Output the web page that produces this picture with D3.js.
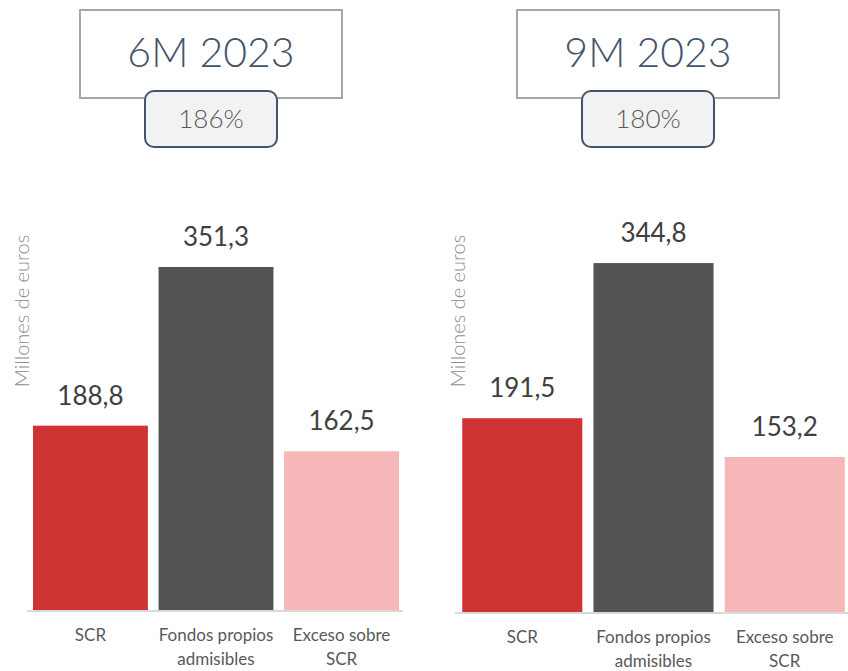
<!DOCTYPE html>
<html>
<head>
<meta charset="utf-8">
<script src="https://cdn.jsdelivr.net/npm/d3@7"></script>
<style>
  body { margin: 0; background: #fff; }
  svg { display: block; font-family: Lato, "Open Sans", sans-serif; }
</style>
</head>
<body>
<svg></svg>
<script>
// DATA ////////////////////////////////////////////////////////////////////////
const categories = ['SCR', 'Fondos propios|admisibles', 'Exceso sobre|SCR'];
const periods = ['6M 2023', '9M 2023'];
const ratios = ['186%', '180%'];
const values6M = [188.8, 351.3, 162.5];
const values9M = [191.5, 344.8, 153.2];
const barColors = ['#cf3434', '#535353', '#f5b7b7'];

// SET PARAMETERS //////////////////////////////////////////////////////////////
const svg = d3.select('svg').attr('width', 848).attr('height', 671);

const panels = [
  { title: periods[0], ratio: ratios[0], values: values6M,
    box: [80, 10, 262, 88], badge: [145, 91, 132, 56],
    xr: [28, 404], base: 610, top: 258.5, axis: [27, 403], ylab: 22 },
  { title: periods[1], ratio: ratios[1], values: values9M,
    box: [517, 10, 262, 88], badge: [582, 91, 132, 56],
    xr: [457, 850], base: 612, top: 247.7, axis: [455, 848], ylab: 458 }
];

// DRAW ///////////////////////////////////////////////////////////////////////
panels.forEach(p => {
  const g = svg.append('g');

  const x = d3.scaleBand().domain(categories).range(p.xr)
    .paddingInner(0.085).paddingOuter(0.04);
  const y = d3.scaleLinear().domain([0, 360]).range([p.base, p.top]);

  // title box
  g.append('rect')
    .attr('x', p.box[0]).attr('y', p.box[1])
    .attr('width', p.box[2]).attr('height', p.box[3])
    .attr('fill', '#fff').attr('stroke', '#a6a6a6').attr('stroke-width', 2);
  g.append('text')
    .attr('x', p.box[0] + p.box[2] / 2).attr('y', 67)
    .attr('text-anchor', 'middle')
    .attr('font-size', 41).attr('font-weight', 300).attr('fill', '#44546a')
    .text(p.title);

  // ratio badge
  g.append('rect')
    .attr('x', p.badge[0]).attr('y', p.badge[1])
    .attr('width', p.badge[2]).attr('height', p.badge[3])
    .attr('rx', 9)
    .attr('fill', '#f2f2f2').attr('stroke', '#44546a').attr('stroke-width', 2);
  g.append('text')
    .attr('x', p.badge[0] + p.badge[2] / 2).attr('y', 128)
    .attr('text-anchor', 'middle')
    .attr('font-size', 26).attr('font-weight', 300).attr('fill', '#595959')
    .text(p.ratio);

  // y label
  g.append('text')
    .attr('transform', `translate(${p.ylab + 7},311) rotate(-90)`)
    .attr('text-anchor', 'middle')
    .attr('font-size', 20).attr('font-weight', 300).attr('fill', '#8c8c8c')
    .text('Millones de euros');

  // bars
  g.selectAll('.bar')
    .data(p.values)
    .enter()
    .append('rect')
    .attr('x', (d, i) => x(categories[i]))
    .attr('y', d => y(d))
    .attr('width', x.bandwidth())
    .attr('height', d => y(0) - y(d))
    .attr('fill', (d, i) => barColors[i]);

  // value labels
  g.selectAll('.val')
    .data(p.values)
    .enter()
    .append('text')
    .attr('x', (d, i) => x(categories[i]) + x.bandwidth() / 2)
    .attr('y', d => y(d) - 21)
    .attr('text-anchor', 'middle')
    .attr('font-size', 26).attr('fill', '#404040')
    .text(d => d.toFixed(1).replace('.', ','));

  // baseline
  g.append('line')
    .attr('x1', p.axis[0]).attr('x2', p.axis[1])
    .attr('y1', p.base + 1).attr('y2', p.base + 1)
    .attr('stroke', '#d9d9d9').attr('stroke-width', 2);

  // category labels
  categories.forEach(c => {
    const t = g.append('text')
      .attr('x', x(c) + x.bandwidth() / 2)
      .attr('y', p.base + 31)
      .attr('text-anchor', 'middle')
      .attr('font-size', 17).attr('fill', '#595959');
    c.split('|').forEach((line, k) => {
      t.append('tspan')
        .attr('x', x(c) + x.bandwidth() / 2)
        .attr('dy', k === 0 ? 0 : 24)
        .text(line);
    });
  });
});
</script>
</body>
</html>
